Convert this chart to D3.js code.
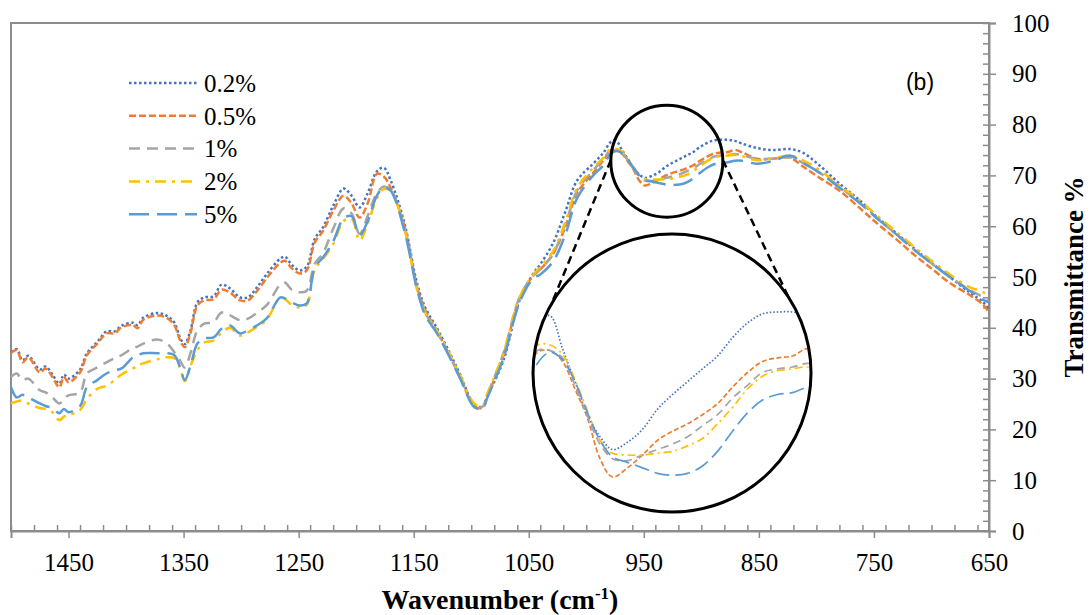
<!DOCTYPE html>
<html>
<head>
<meta charset="utf-8">
<script src="https://cdn.jsdelivr.net/npm/d3@7"></script>
<style>
  body { margin: 0; background: #fff; }
</style>
</head>
<body>
<svg id="ftir" width="1090" height="615"></svg>
<script>
// wavenumber grid (cm-1) shared by all series
const wavenumbers = [
  1500, 1495, 1490, 1485, 1475, 1470, 1464, 1458, 1454, 1450, 1440, 1434,
  1425, 1417, 1410, 1404, 1394, 1390, 1385, 1373, 1365, 1358, 1353, 1349, 1344, 1338,
  1332, 1324, 1317, 1310, 1301, 1294, 1286, 1278, 1266, 1262, 1256, 1249, 1243,
  1236, 1229, 1220, 1211, 1204, 1197, 1190, 1182, 1176, 1170,
  1158, 1147, 1140, 1130, 1121, 1110, 1097, 1090, 1086, 1072, 1058, 1046,
  1040, 1029, 1018, 1008, 994,
  985, 979, 974, 969, 964, 959, 954, 949, 943, 937, 931, 925, 919, 913, 907, 901, 895, 889, 883, 877, 871, 865,
  852, 838, 823, 812, 797, 780, 762, 747, 730, 713, 700, 684, 667, 655, 650
];

const t02 = [
  35.2, 35.8, 33.6, 34.5, 31.8, 32.4, 30.8, 29.0, 30.8, 30.0, 31.8, 35.0,
  37.2, 39.3, 39.3, 40.4, 41.0, 40.5, 42.0, 42.9, 42.4, 41.0, 38.0, 36.8, 39.5, 45.0,
  46.0, 46.2, 48.5, 47.8, 46.0, 46.0, 48.0, 50.5, 53.6, 54.0, 52.4, 51.3, 52.0,
  57.5, 59.7, 64.0, 67.4, 66.0, 63.7, 66.5, 70.8, 71.5, 69.0,
  60.5, 48.7, 44.0, 40.0, 36.1, 31.0, 24.8, 24.5, 26.5, 33.6, 45.4, 50.7,
  52.5, 56.6, 63.0, 69.0, 72.3,
  74.5, 76.5, 76.8, 75.0, 73.2, 71.4, 70.2, 69.5, 69.9, 70.6, 71.7, 72.5, 73.2, 73.9, 74.6, 75.6, 76.4, 76.9, 77.0, 77.0, 76.8, 76.3,
  75.4, 75.0, 75.2, 74.5, 71.9, 68.4, 65.0, 61.7, 58.5, 55.2, 52.8, 50.0, 47.0, 45.0, 43.5
];

const t05 = [
  35.0, 35.6, 33.2, 34.2, 31.2, 32.0, 30.3, 28.3, 30.3, 29.3, 31.2, 34.6,
  36.9, 38.9, 38.9, 40.1, 40.5, 39.9, 41.6, 42.4, 42.0, 40.5, 37.5, 36.2, 39.0, 44.4,
  45.4, 45.6, 47.5, 47.0, 45.4, 45.4, 47.3, 49.7, 52.8, 53.2, 51.7, 50.7, 51.3,
  56.8, 59.0, 63.0, 66.0, 64.5, 61.7, 64.5, 70.3, 69.8, 67.5,
  60.0, 48.0, 43.5, 39.5, 35.5, 30.5, 24.5, 24.3, 26.5, 34.5, 45.8, 50.3,
  51.5, 54.5, 60.0, 66.5, 70.5,
  73.0, 74.8, 74.9, 74.3, 72.8, 71.2, 69.0, 68.0, 68.5, 69.2, 70.0, 70.5, 70.9, 71.4, 72.0, 72.9, 73.7, 74.3, 74.5, 74.6, 75.0, 74.6,
  73.3, 73.3, 73.5, 71.8, 69.5, 67.0, 63.5, 60.5, 57.3, 54.0, 51.7, 48.8, 46.5, 44.5, 43.0
];

const t1 = [
  30.3, 31.0, 29.7, 30.0, 27.7, 27.3, 26.3, 25.1, 26.0, 26.7, 27.3, 31.0,
  32.2, 33.2, 34.0, 34.6, 36.0, 36.3, 36.9, 37.7, 37.0, 35.2, 33.5, 32.2, 35.0, 39.5,
  40.8, 41.1, 43.0, 42.5, 41.5, 41.8, 43.0, 44.4, 48.5, 48.9, 47.5, 47.0, 47.3,
  52.6, 54.6, 59.5, 63.5, 62.5, 58.5, 62.0, 66.5, 67.8, 67.0,
  59.5, 47.8, 43.0, 39.2, 35.5, 30.5, 24.6, 24.5, 26.8, 35.0, 46.0, 50.3,
  51.5, 54.5, 60.5, 67.0, 71.0,
  73.3, 74.9, 74.9, 74.5, 73.0, 71.3, 69.8, 69.0, 68.9, 69.2, 69.5, 69.8, 70.2, 70.8, 71.4, 72.3, 73.0, 73.7, 73.9, 74.0, 74.2, 74.0,
  73.3, 73.3, 73.6, 72.5, 70.5, 67.8, 64.5, 61.5, 58.3, 55.0, 52.7, 50.0, 47.5, 46.0, 45.0
];

const t2 = [
  25.1, 25.5, 25.7, 25.1, 24.2, 24.0, 23.4, 21.8, 22.5, 22.8, 23.8, 26.0,
  28.0, 28.6, 29.7, 30.8, 32.0, 32.5, 33.0, 33.8, 34.2, 34.0, 32.0, 29.5, 32.5, 35.6,
  37.1, 37.5, 39.0, 40.0, 38.5, 39.1, 40.2, 41.5, 46.0, 45.7, 44.5, 44.0, 44.5,
  51.5, 53.5, 56.5, 61.0, 61.5, 57.2, 60.5, 65.5, 67.3, 67.0,
  59.5, 47.5, 43.0, 39.5, 35.8, 30.8, 25.0, 24.8, 27.0, 35.0, 46.0, 50.5,
  52.0, 55.0, 61.0, 67.5, 71.5,
  73.5, 75.2, 75.2, 74.7, 73.3, 71.6, 70.0, 69.3, 69.2, 69.2, 69.3, 69.4, 69.7, 70.1, 70.9, 71.8, 72.8, 73.5, 73.8, 73.9, 74.0, 73.8,
  73.0, 73.3, 73.9, 73.0, 71.0, 68.0, 65.0, 62.0, 58.8, 55.5, 53.2, 50.5, 48.0, 47.0, 46.0
];

const t5 = [
  28.3, 26.3, 26.8, 26.3, 25.1, 24.6, 24.2, 23.2, 24.0, 23.4, 24.6, 28.3,
  29.7, 31.0, 31.6, 32.0, 34.2, 34.6, 35.0, 35.0, 35.0, 34.6, 32.2, 29.7, 32.5, 36.9,
  37.9, 38.1, 39.8, 40.5, 38.9, 39.5, 40.5, 41.8, 46.0, 45.8, 45.0, 44.4, 44.8,
  51.9, 53.8, 57.0, 61.5, 62.0, 58.2, 61.0, 66.0, 67.6, 67.0,
  59.0, 47.5, 42.5, 39.0, 35.2, 30.2, 24.3, 24.2, 26.3, 34.0, 45.0, 49.8,
  50.5, 53.0, 58.5, 65.5, 70.0,
  72.0, 74.2, 74.8, 74.4, 73.2, 71.5, 70.0, 69.1, 68.8, 68.5, 68.2, 68.1, 68.2, 68.6, 69.4, 70.5, 71.5, 72.2, 72.5, 72.6, 72.9, 72.9,
  72.3, 72.8, 73.9, 72.5, 70.5, 67.6, 64.5, 61.5, 58.3, 55.0, 52.7, 50.0, 47.3, 45.5, 45.0
];

const seriesNames = ["0.2%", "0.5%", "1%", "2%", "5%"];
const seriesValues = [t02, t05, t1, t2, t5];
const seriesColors = ["#4472C4", "#ED7D31", "#A5A5A5", "#FFC000", "#5B9BD5"];
const seriesDash = ["2.5,2.5", "7,3", "11,7", "11,6,3,6", "20,8"];
const insetDash = ["1.5,2", "5,2.5", "8,5", "8,4,2,4", "15,6"];

const xTicks = [1450, 1350, 1250, 1150, 1050, 950, 850, 750, 650];
const yTicks = [0, 10, 20, 30, 40, 50, 60, 70, 80, 90, 100];

// magnified region: small circle on the spectrum, big circle with the zoom
const zoomSpot = { wn: 930, t: 72.8, r: 56 };
const insetSpot = { wn: 925.5, t: 31.1, r: 139 };
const insetWn = [980, 870];
const insetT = [68, 77];

const plotLeft = 11, plotRight = 989, plotTop = 23, plotBottom = 531;
const serif = "Liberation Serif, Times New Roman, serif";
const axisGray = "#8c8c8c";

const svg = d3.select("#ftir");

const x = d3.scaleLinear().domain([1500, 650]).range([plotLeft, plotRight]);
const y = d3.scaleLinear().domain([0, 100]).range([plotBottom, plotTop]);

const series = seriesNames.map((name, i) => ({
  name: name,
  color: seriesColors[i],
  dash: seriesDash[i],
  idash: insetDash[i],
  points: wavenumbers.map((w, j) => ({ wn: w, t: seriesValues[i][j] }))
}));

// frame
svg.append("rect")
  .attr("x", plotLeft).attr("y", plotTop)
  .attr("width", plotRight - plotLeft).attr("height", plotBottom - plotTop)
  .attr("fill", "none")
  .attr("stroke", axisGray)
  .attr("stroke-width", 2);

// bottom axis: major ticks outward, minor ticks inward
const xMinor = d3.range(1500, 649, -20);
svg.append("g")
  .attr("transform", `translate(0,${plotBottom})`)
  .call(d3.axisTop(x).tickValues(xMinor).tickSize(6).tickFormat(""))
  .call(g => g.select(".domain").remove())
  .selectAll("line").attr("stroke", axisGray).attr("stroke-width", 1.5);

svg.append("g")
  .attr("transform", `translate(0,${plotBottom})`)
  .call(d3.axisBottom(x).tickValues(xTicks).tickSize(7).tickPadding(15).tickFormat(d3.format("d")))
  .attr("font-family", serif)
  .attr("font-size", 25)
  .call(g => g.select(".domain").attr("stroke", axisGray).attr("stroke-width", 2))
  .call(g => g.selectAll("line").attr("stroke", axisGray).attr("stroke-width", 1.5))
  .call(g => g.selectAll("text").attr("fill", "#000"));

// right axis
svg.append("g")
  .attr("transform", `translate(${plotRight},0)`)
  .call(d3.axisLeft(y).tickValues(d3.range(0, 101, 2)).tickSize(6).tickFormat(""))
  .call(g => g.select(".domain").remove())
  .selectAll("line").attr("stroke", axisGray).attr("stroke-width", 1.5);

svg.append("g")
  .attr("transform", `translate(${plotRight},0)`)
  .call(d3.axisRight(y).tickValues(yTicks).tickSize(7).tickPadding(16))
  .attr("font-family", serif)
  .attr("font-size", 25)
  .call(g => g.select(".domain").attr("stroke", axisGray).attr("stroke-width", 2))
  .call(g => g.selectAll("line").attr("stroke", axisGray).attr("stroke-width", 1.5))
  .call(g => g.selectAll("text").attr("fill", "#000"));

// spectra
const line = d3.line()
  .x(d => x(d.wn))
  .y(d => y(d.t))
  .curve(d3.curveCatmullRom.alpha(0.5));

svg.append("g").selectAll("path")
  .data(series).enter()
  .append("path")
  .attr("d", d => line(d.points))
  .attr("fill", "none")
  .attr("stroke", d => d.color)
  .attr("stroke-width", 2.5)
  .attr("stroke-dasharray", d => d.dash);

// zoom annotation
const sc = { x: x(zoomSpot.wn), y: y(zoomSpot.t) };
const bc = { x: x(insetSpot.wn), y: y(insetSpot.t) };
const rad = a => a * Math.PI / 180;
const onCircle = (c, r, a) => [c.x + r * Math.cos(rad(a)), c.y + r * Math.sin(rad(a))];

const connectors = [
  [onCircle(sc, zoomSpot.r, 181), onCircle(bc, insetSpot.r, 210)],
  [onCircle(sc, zoomSpot.r, 359), onCircle(bc, insetSpot.r, 327)]
];
svg.append("g").selectAll("line")
  .data(connectors).enter()
  .append("line")
  .attr("x1", d => d[0][0]).attr("y1", d => d[0][1])
  .attr("x2", d => d[1][0]).attr("y2", d => d[1][1])
  .attr("stroke", "#000")
  .attr("stroke-width", 2.5)
  .attr("stroke-dasharray", "8,5");

svg.append("circle")
  .attr("cx", sc.x).attr("cy", sc.y).attr("r", zoomSpot.r)
  .attr("fill", "none").attr("stroke", "#000").attr("stroke-width", 3);

svg.append("circle")
  .attr("cx", bc.x).attr("cy", bc.y).attr("r", insetSpot.r)
  .attr("fill", "#fff").attr("stroke", "none");

svg.append("clipPath").attr("id", "insetClip")
  .append("circle")
  .attr("cx", bc.x).attr("cy", bc.y).attr("r", insetSpot.r - 1);

const ix = d3.scaleLinear().domain(insetWn).range([bc.x - 137, bc.x + 138]);
const iy = d3.scaleLinear().domain(insetT).range([bc.y + 104, bc.y - 61]);
const insetLine = d3.line()
  .x(d => ix(d.wn))
  .y(d => iy(d.t))
  .curve(d3.curveCatmullRom.alpha(0.5));

svg.append("g")
  .attr("clip-path", "url(#insetClip)")
  .selectAll("path")
  .data(series).enter()
  .append("path")
  .attr("d", d => insetLine(d.points.filter(p => p.wn <= 994 && p.wn >= 852)))
  .attr("fill", "none")
  .attr("stroke", d => d.color)
  .attr("stroke-width", 1.7)
  .attr("stroke-dasharray", d => d.idash);

svg.append("circle")
  .attr("cx", bc.x).attr("cy", bc.y).attr("r", insetSpot.r)
  .attr("fill", "none").attr("stroke", "#000").attr("stroke-width", 3);

// legend
const legend = svg.append("g").selectAll("g")
  .data(series).enter()
  .append("g")
  .attr("transform", (d, i) => `translate(129,${83 + i * 32.8})`);

legend.append("line")
  .attr("x1", 0).attr("x2", 68)
  .attr("stroke", d => d.color)
  .attr("stroke-width", 2.5)
  .attr("stroke-dasharray", d => d.dash);

legend.append("text")
  .attr("x", 75)
  .attr("dy", "0.35em")
  .attr("font-family", serif)
  .attr("font-size", 25)
  .text(d => d.name);

svg.append("text")
  .attr("x", 920).attr("y", 82)
  .attr("dy", "0.35em")
  .attr("text-anchor", "middle")
  .attr("font-family", "Liberation Sans, Arial, sans-serif")
  .attr("font-size", 23)
  .text("(b)");

// axis titles
const xTitle = svg.append("text")
  .attr("x", (plotLeft + plotRight) / 2).attr("y", 609)
  .attr("text-anchor", "middle")
  .attr("font-family", serif)
  .attr("font-weight", "bold")
  .attr("font-size", 28);
xTitle.append("tspan").text("Wavenumber (cm");
xTitle.append("tspan").attr("dy", -10).attr("font-size", 17).text("-1");
xTitle.append("tspan").attr("dy", 10).text(")");

svg.append("text")
  .attr("transform", `translate(1083,${(plotTop + plotBottom) / 2}) rotate(-90)`)
  .attr("text-anchor", "middle")
  .attr("font-family", serif)
  .attr("font-weight", "bold")
  .attr("font-size", 27)
  .text("Transmittance %");
</script>
</body>
</html>
